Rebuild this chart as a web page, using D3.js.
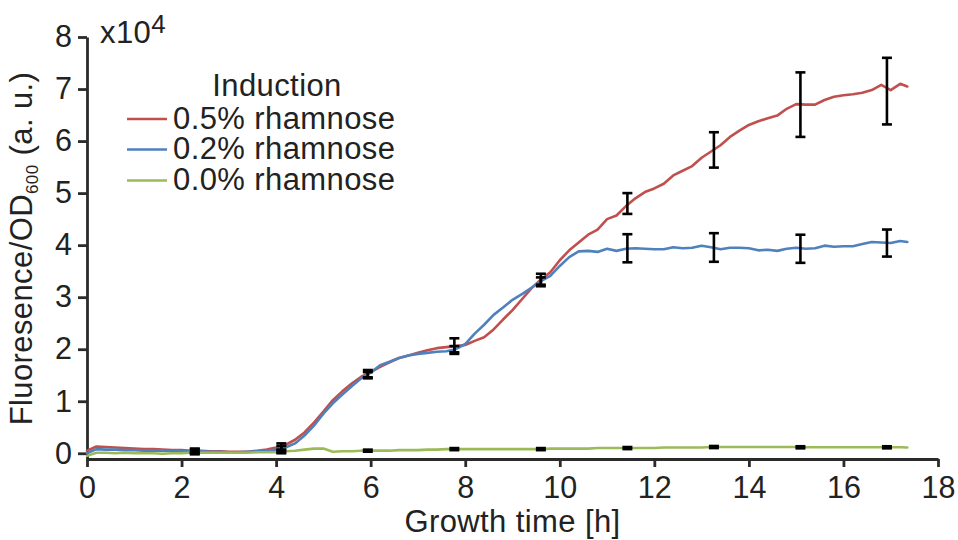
<!DOCTYPE html>
<html>
<head>
<meta charset="utf-8">
<script src="https://cdn.jsdelivr.net/npm/d3@7"></script>
<style>
  html, body { margin: 0; padding: 0; background: #fff; }
  svg { display: block; }
  text { font-family: "Liberation Sans", Arial, Helvetica, sans-serif; fill: #222; }
  .label { font-size: 31px; letter-spacing: 0.4px; }
</style>
</head>
<body>
<svg id="chart" width="958" height="540"></svg>
<script>
// Growth time [h] for each plate-reader reading
const times = [
  0, 0.2, 0.4, 0.6, 0.8, 1.0, 1.2, 1.4, 1.6, 1.8,
  2.0, 2.2, 2.4, 2.6, 2.8, 3.0, 3.2, 3.4, 3.6, 3.8,
  4.0, 4.2, 4.4, 4.6, 4.8, 5.0, 5.2, 5.4, 5.6, 5.8,
  6.0, 6.2, 6.4, 6.6, 6.8, 7.0, 7.2, 7.4, 7.6, 7.8,
  8.0, 8.2, 8.4, 8.6, 8.8, 9.0, 9.2, 9.4, 9.6, 9.8,
  10.0, 10.2, 10.4, 10.6, 10.8, 11.0, 11.2, 11.4, 11.6, 11.8,
  12.0, 12.2, 12.4, 12.6, 12.8, 13.0, 13.2, 13.4, 13.6, 13.8,
  14.0, 14.2, 14.4, 14.6, 14.8, 15.0, 15.2, 15.4, 15.6, 15.8,
  16.0, 16.2, 16.4, 16.6, 16.8, 17.0, 17.2, 17.35
];

// Fluorescence / OD600 in units of 10^4
const rham05 = [
  0.05, 0.13, 0.12, 0.11, 0.10, 0.09, 0.08, 0.08, 0.07, 0.06,
  0.06, 0.05, 0.05, 0.04, 0.04, 0.03, 0.03, 0.03, 0.05, 0.07,
  0.11, 0.16, 0.26, 0.40, 0.59, 0.80, 1.02, 1.19, 1.34, 1.47,
  1.56, 1.66, 1.75, 1.83, 1.88, 1.93, 1.98, 2.02, 2.04, 2.06,
  2.08, 2.16, 2.23, 2.38, 2.57, 2.75, 2.96, 3.17, 3.34, 3.48,
  3.71, 3.90, 4.05, 4.20, 4.30, 4.50, 4.57, 4.75, 4.90, 5.02,
  5.09, 5.18, 5.34, 5.43, 5.52, 5.68, 5.80, 5.92, 6.08, 6.20,
  6.31, 6.38, 6.44, 6.49, 6.62, 6.71, 6.70, 6.70, 6.79, 6.85,
  6.88, 6.90, 6.93, 6.98, 7.08, 6.98, 7.10, 7.05
];
const rham02 = [
  0.00, 0.08, 0.07, 0.07, 0.06, 0.06, 0.05, 0.05, 0.05, 0.04,
  0.04, 0.04, 0.04, 0.03, 0.03, 0.02, 0.02, 0.03, 0.04, 0.05,
  0.07, 0.11, 0.19, 0.34, 0.53, 0.76, 0.96, 1.13, 1.29, 1.44,
  1.55, 1.69, 1.76, 1.83, 1.88, 1.91, 1.93, 1.95, 1.96, 2.00,
  2.10, 2.30, 2.47, 2.66, 2.80, 2.95, 3.06, 3.18, 3.31, 3.41,
  3.60, 3.77, 3.88, 3.89, 3.87, 3.93, 3.89, 3.93, 3.94, 3.93,
  3.92, 3.92, 3.96, 3.94, 3.95, 3.99, 3.96, 3.92, 3.95, 3.95,
  3.94, 3.90, 3.91, 3.89, 3.93, 3.95, 3.93, 3.94, 3.99, 3.97,
  3.98, 3.98, 4.02, 4.06, 4.05, 4.04, 4.08, 4.06
];
const rham00 = [
  -0.05, 0.01, 0.01, 0.00, 0.01, 0.00, 0.00, 0.00, -0.01, 0.00,
  0.00, 0.01, 0.01, 0.01, 0.01, 0.01, 0.01, 0.01, 0.02, 0.02,
  0.02, 0.04, 0.05, 0.07, 0.09, 0.09, 0.03, 0.04, 0.04, 0.05,
  0.05, 0.05, 0.05, 0.06, 0.06, 0.06, 0.07, 0.07, 0.08, 0.08,
  0.08, 0.08, 0.08, 0.08, 0.08, 0.08, 0.08, 0.08, 0.08, 0.09,
  0.09, 0.09, 0.09, 0.09, 0.10, 0.10, 0.10, 0.10, 0.10, 0.10,
  0.10, 0.11, 0.11, 0.11, 0.11, 0.11, 0.12, 0.12, 0.12, 0.12,
  0.12, 0.12, 0.12, 0.12, 0.12, 0.12, 0.115, 0.115, 0.115, 0.115,
  0.115, 0.115, 0.115, 0.115, 0.115, 0.115, 0.115, 0.11
];

// Replicate summary at the sampling points: mean and standard deviation
const errTimes = [2.28, 4.11, 5.94, 7.77, 9.6, 11.43, 13.26, 15.09, 16.92];
const rham05Mean = [0.05, 0.13, 1.53, 2.06, 3.33, 4.80, 5.83, 6.70, 6.96];
const rham05Sd   = [0.04, 0.06, 0.07, 0.15, 0.12, 0.20, 0.34, 0.62, 0.64];
const rham02Mean = [0.04, 0.08, 1.50, 2.00, 3.31, 3.94, 3.955, 3.93, 4.04];
const rham02Sd   = [0.04, 0.06, 0.06, 0.06, 0.07, 0.27, 0.275, 0.27, 0.26];
const rham00Mean = [0.01, 0.03, 0.05, 0.08, 0.08, 0.10, 0.12, 0.115, 0.115];
const rham00Sd   = [0.03, 0.03, 0.02, 0.02, 0.02, 0.02, 0.02, 0.02, 0.02];

const seriesNames = ["0.5% rhamnose", "0.2% rhamnose", "0.0% rhamnose"];
const seriesColors = ["#c0504d", "#4f81bd", "#9bbb59"];
const xTicks = [0, 2, 4, 6, 8, 10, 12, 14, 16, 18];
const yTicks = [0, 1, 2, 3, 4, 5, 6, 7, 8];

const series = [
  { name: seriesNames[0], color: seriesColors[0], values: rham05, mean: rham05Mean, sd: rham05Sd },
  { name: seriesNames[1], color: seriesColors[1], values: rham02, mean: rham02Mean, sd: rham02Sd },
  { name: seriesNames[2], color: seriesColors[2], values: rham00, mean: rham00Mean, sd: rham00Sd }
];

const svg = d3.select("#chart");
const axisColor = "#2b2b2b";

const x = d3.scaleLinear().domain([0, 18]).range([87, 938]);
const y = d3.scaleLinear().domain([-0.11, 8]).range([459, 37]);

// Axes
const xAxis = d3.axisBottom(x).tickValues(xTicks).tickFormat(d3.format("d"))
  .tickSizeInner(8).tickSizeOuter(0).tickPadding(9);
const yAxis = d3.axisLeft(y).tickValues(yTicks).tickFormat(d3.format("d"))
  .tickSizeInner(9).tickSizeOuter(0).tickPadding(6);

const gx = svg.append("g").attr("transform", "translate(0,459)").call(xAxis);
const gy = svg.append("g").attr("transform", "translate(87,0)").call(yAxis);

[gx, gy].forEach(g => {
  g.select(".domain").attr("stroke", axisColor).attr("stroke-width", 2.8);
  g.selectAll(".tick line").attr("stroke", axisColor).attr("stroke-width", 2.8);
  g.selectAll(".tick text")
    .attr("fill", "#222")
    .style("font-family", "'Liberation Sans', Arial, sans-serif")
    .style("font-size", "30.5px");
});

// Curves
const line = d3.line()
  .x((d, i) => x(times[i]))
  .y(d => y(d));

svg.append("g").selectAll("path")
  .data(series)
  .join("path")
  .attr("d", s => line(s.values))
  .attr("fill", "none")
  .attr("stroke", s => s.color)
  .attr("stroke-width", 2.6)
  .attr("stroke-linejoin", "round")
  .attr("stroke-linecap", "round");

// Error bars
const capHalf = 5;
const gErr = svg.append("g").attr("stroke", "#000").attr("stroke-width", 2.6).attr("fill", "none");
series.forEach(s => {
  errTimes.forEach((t, i) => {
    const cx = x(t);
    const top = y(s.mean[i] + s.sd[i]);
    const bot = y(s.mean[i] - s.sd[i]);
    gErr.append("line").attr("x1", cx).attr("x2", cx).attr("y1", top).attr("y2", bot);
    gErr.append("line").attr("x1", cx - capHalf).attr("x2", cx + capHalf).attr("y1", top).attr("y2", top);
    gErr.append("line").attr("x1", cx - capHalf).attr("x2", cx + capHalf).attr("y1", bot).attr("y2", bot);
  });
});

// Axis titles
svg.append("text")
  .attr("class", "label")
  .attr("x", (x.range()[0] + x.range()[1]) / 2)
  .attr("y", 531.5)
  .attr("text-anchor", "middle")
  .text("Growth time [h]");

const yTitle = svg.append("text")
  .attr("class", "label")
  .attr("transform", "translate(32,248.5) rotate(-90)")
  .attr("text-anchor", "middle");
yTitle.append("tspan").text("Fluoresence/OD");
yTitle.append("tspan").attr("dy", 6).style("font-size", "17px").text("600");
yTitle.append("tspan").attr("dy", -6).text(" (a. u.)");

// Scale factor label
const mult = svg.append("text").attr("class", "label").attr("x", 100).attr("y", 43);
mult.append("tspan").text("x10");
mult.append("tspan").attr("dy", -10).style("font-size", "26px").text("4");

// Legend
const legend = svg.append("g");
legend.append("text")
  .attr("class", "label")
  .attr("x", 277).attr("y", 96)
  .attr("text-anchor", "middle")
  .text("Induction");

const rowBaselines = [128.5, 159, 190];
series.forEach((s, i) => {
  const by = rowBaselines[i];
  legend.append("line")
    .attr("x1", 127).attr("x2", 167)
    .attr("y1", by - 9.5).attr("y2", by - 9.5)
    .attr("stroke", s.color).attr("stroke-width", 2.6);
  legend.append("text")
    .attr("class", "label")
    .attr("x", 173).attr("y", by)
    .text(s.name);
});
</script>
</body>
</html>
